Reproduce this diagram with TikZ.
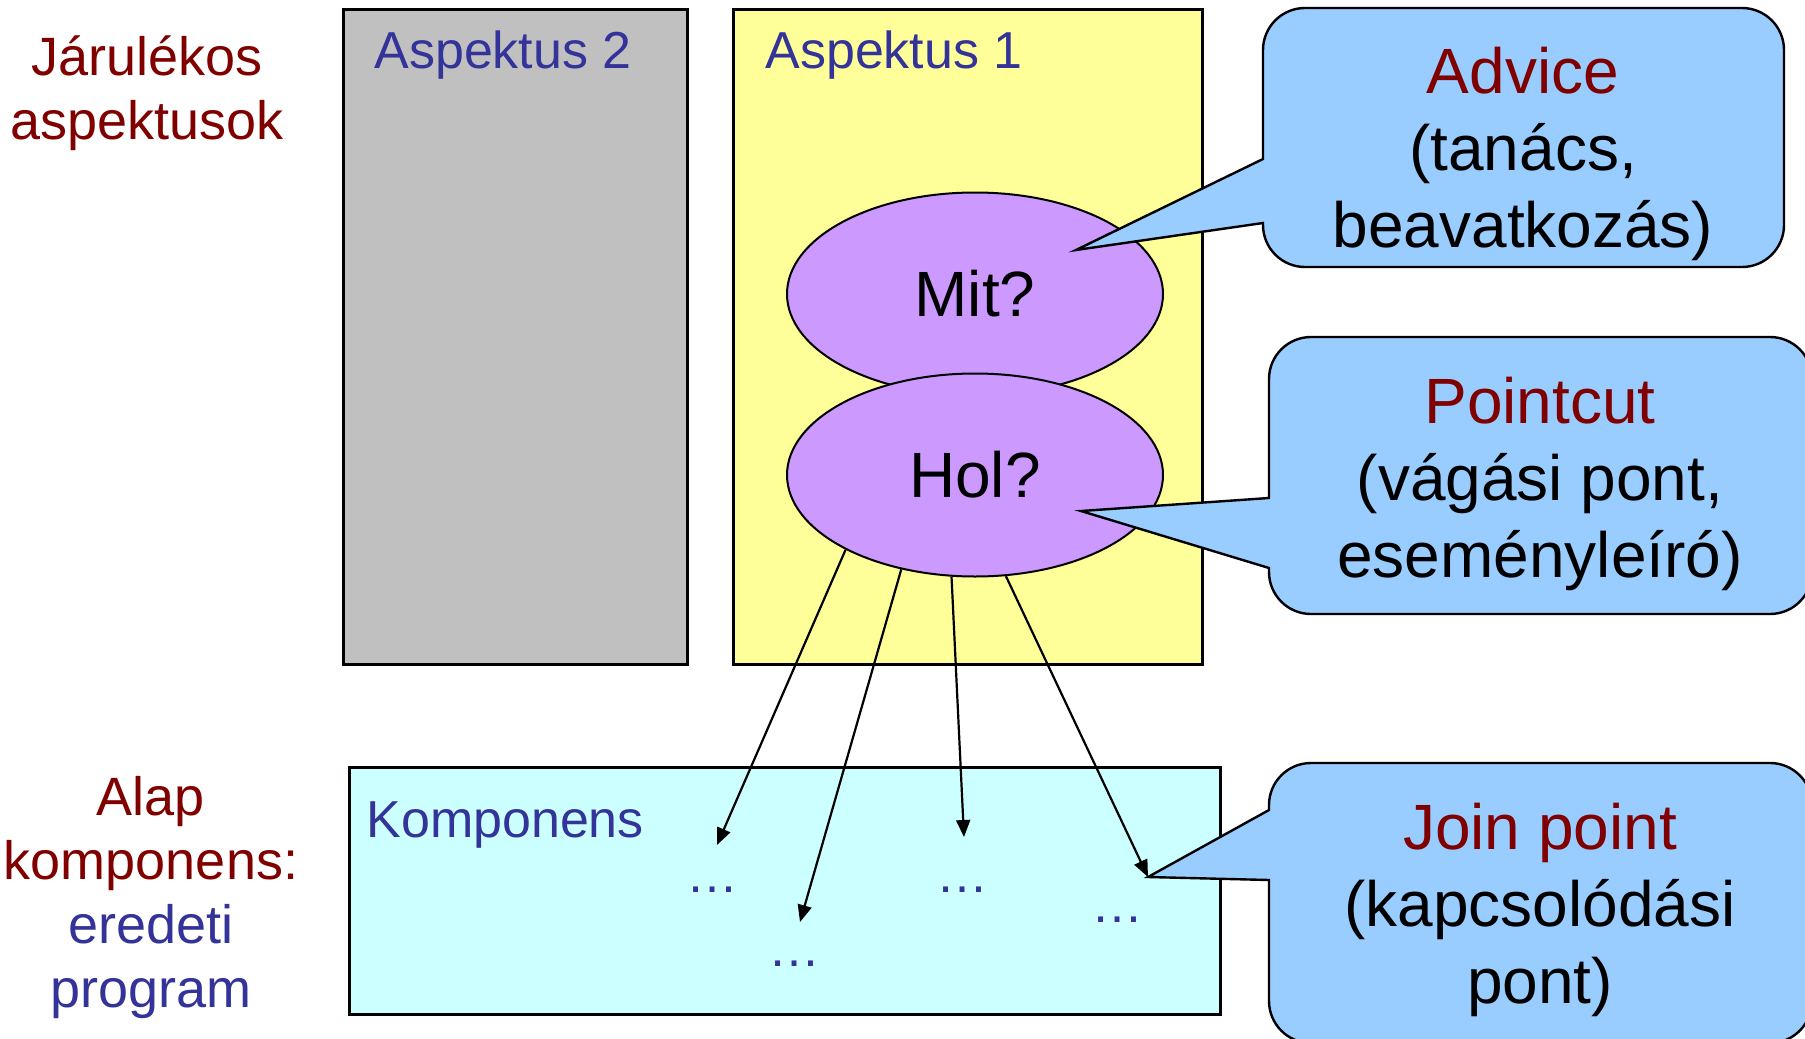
\documentclass[tikz,border=0pt]{standalone}
\usepackage{fontspec}
\setmainfont{Liberation Sans}
\usetikzlibrary{shapes.geometric,arrows.meta}
\definecolor{dred}{RGB}{128,0,0}
\definecolor{dblue}{RGB}{51,51,153}
\definecolor{cfill}{RGB}{153,204,255}
\definecolor{yfill}{RGB}{255,255,153}
\definecolor{gfill}{RGB}{192,192,192}
\definecolor{kfill}{RGB}{204,255,255}
\definecolor{efill}{RGB}{204,153,255}
\newcommand\centerlines[1]{\vtop{\halign{\hfil##\hfil\cr#1\crcr}}}
\begin{document}
\begin{tikzpicture}[x=0.5pt,y=-0.5pt,
 boxline/.style={draw=black,line width=1.5pt},
 bubble/.style={draw=black,line width=1.2pt,fill=cfill},
 oval/.style={ellipse,draw=black,line width=1pt,fill=efill,minimum width=188pt,minimum height=101.5pt,inner sep=0pt,font=\fontsize{32pt}{38pt}\selectfont},
 bigtxt/.style={font=\fontsize{32pt}{38.5pt}\selectfont,anchor=base,inner sep=0pt},
 sidelbl/.style={font=\fontsize{27pt}{32pt}\selectfont,anchor=base,inner sep=0pt,text=dred},
 lbl/.style={font=\fontsize{26pt}{31pt}\selectfont,anchor=base west,inner sep=0pt,text=dblue},
 dotlbl/.style={font=\fontsize{26pt}{31pt}\selectfont,anchor=base,inner sep=0pt,text=dblue},
 arr/.style={line width=1.1pt,-{Triangle[length=8.5pt,width=7pt]}}]

\useasboundingbox (0,0) rectangle (1805,1039);
\clip (0,0) rectangle (1805,1039);
\fill[white] (0,0) rectangle (1805,1039);

% boxes
\draw[boxline,fill=gfill] (343,9) rectangle (687,664);
\draw[boxline,fill=yfill] (733,9) rectangle (1202,664);
\draw[boxline,fill=kfill] (349,767) rectangle (1220,1014);

\node[lbl] (asp2) at (374,68) {Aspektus 2};
\node[lbl] (asp1) at (765,68) {Aspektus 1};
\node[lbl] (komp) at (366,837) {Komponens};

% left labels
\node[sidelbl] (jar) at (147,75) {\centerlines{Járulékos\cr aspektusok}};
\node[sidelbl] (alap) at (151,815) {\centerlines{Alap\cr komponens:\cr \textcolor{dblue}{eredeti}\cr \textcolor{dblue}{program}}};

% ellipses
\node[oval] (mit) at (975,294) {Mit?};
\node[oval] (hol) at (975,475) {Hol?};

% join point targets
\coordinate (e1) at (717,845);
\coordinate (e2) at (800,922);
\coordinate (e3) at (964,837);
\coordinate (e4) at (1148,877);
\coordinate (advtip) at (1076,250);
\coordinate (pcttip) at (1081,511);

% dots
\node[dotlbl] (d1) at (712,892) {…};
\node[dotlbl] (d2) at (794,966) {…};
\node[dotlbl] (d3) at (962,892) {…};
\node[dotlbl] (d4) at (1117,922) {…};

% arrows
\draw[arr] (hol.210) -- (e1);
\draw[arr] (hol.232) -- (e2);
\draw[arr] (hol.257) -- (e3);
\draw[arr] (hol.287) -- (e4);

% callouts
\draw[bubble] (1263,159) [rounded corners=21pt] -- (1263,8) -- (1784,8) -- (1784,267) -- (1263,267) [sharp corners] -- (1263,223) -- (advtip) -- cycle;
\draw[bubble] (1269,498) [rounded corners=21pt] -- (1269,337) -- (1812,337) -- (1812,614) -- (1269,614) [sharp corners] -- (1269,568) -- (pcttip) -- cycle;
\draw[bubble] (1269,810) [rounded corners=21pt] -- (1269,763) -- (1812,763) -- (1812,1043) -- (1269,1043) [sharp corners] -- (1269,880) -- (e4) -- cycle;

\node[bigtxt] (advice) at (1523,93) {\centerlines{\textcolor{dred}{Advice}\cr (tanács,\cr beavatkozás)}};
\node[bigtxt] (pointcut) at (1540,423) {\centerlines{\textcolor{dred}{Pointcut}\cr (vágási pont,\cr eseményleíró)}};
\node[bigtxt] (joinpt) at (1540,849) {\centerlines{\textcolor{dred}{Join point}\cr (kapcsolódási\cr pont)}};
\end{tikzpicture}
\end{document}
